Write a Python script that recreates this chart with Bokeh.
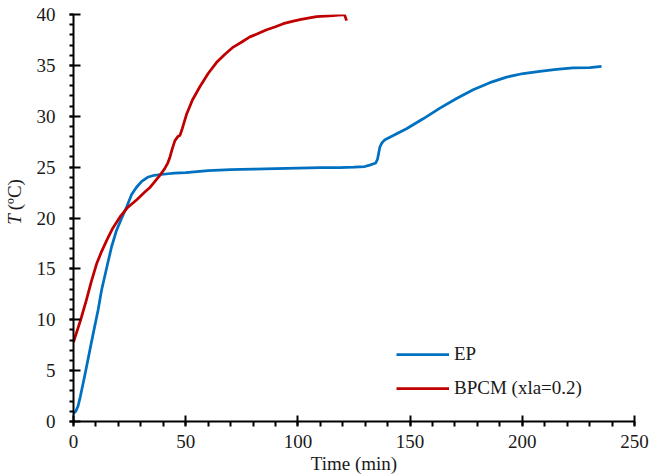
import math
from bokeh.plotting import figure
from bokeh.layouts import row
from bokeh.models import (Legend, LegendItem, Label, SingleIntervalTicker, Range1d)
from bokeh.embed import file_html
from bokeh.resources import INLINE

# ---- data ----
ep_time = [0, 1, 2, 3, 5, 8, 11, 12.5, 15.2, 17, 19.2, 21.5, 23.7, 25.9, 28, 30.4,
           33, 36, 40, 45, 50, 55, 60, 65, 70, 80, 90, 100, 110, 118.7, 125, 129.8,
           132, 134.7, 135.5, 136.5, 137.5, 138.8, 142.5, 148.4, 155.8, 163.3,
           170.7, 178.1, 185.5, 193, 200.4, 207.8, 215.2, 222.6, 230.1, 235.3]
ep_temp = [0.8, 1.0, 1.5, 2.4, 4.5, 7.8, 11.0, 12.9, 15.5, 17.2, 18.8, 20.0, 21.1,
           22.3, 23.0, 23.6, 24.0, 24.2, 24.3, 24.4, 24.45, 24.55, 24.65, 24.7,
           24.75, 24.8, 24.85, 24.9, 24.95, 24.96, 25.0, 25.06, 25.2, 25.4, 25.8,
           26.96, 27.4, 27.7, 28.1, 28.77, 29.75, 30.8, 31.75, 32.6, 33.3, 33.85,
           34.2, 34.4, 34.6, 34.76, 34.78, 34.9]

bpcm_time = [0, 3.2, 5.7, 8, 10.3, 12.5, 14.8, 17.5, 20.7, 24, 28.2, 32, 34.1, 36.3,
             38.5, 40.5, 42, 43, 44, 45.2, 46.5, 47.4, 48.5, 50.4, 53, 56.3, 60,
             63.8, 67.5, 71.2, 75, 78.6, 82, 86.1, 90, 93.5, 97, 100.9, 104.5,
             108.3, 112, 115.7, 118, 120.2, 120.8, 121.7]
bpcm_temp = [7.8, 10.0, 11.9, 13.8, 15.5, 16.7, 17.8, 19.0, 20.1, 21.0, 21.8, 22.6,
             23.0, 23.6, 24.2, 24.8, 25.4, 26.0, 26.8, 27.6, 28.0, 28.1, 28.8, 30.2,
             31.6, 32.9, 34.2, 35.3, 36.1, 36.8, 37.3, 37.8, 38.1, 38.5, 38.8, 39.1,
             39.3, 39.5, 39.65, 39.8, 39.85, 39.9, 39.93, 39.97, 39.95, 39.4]

series_names = ["EP", "BPCM (xla=0.2)"]
x_label = "Time (min)"
y_label_italic = "T"
y_label_rest = "(ºC)"

FONT = "Liberation Serif"
FS = "19px"
TXT = "#1a1a1a"
H = 476
LW = 30  # width of the strip holding the y-axis title

# ---- narrow strip for the y-axis title (so italic T can be mixed in) ----
lab = figure(width=LW, height=H, output_backend="svg", toolbar_location=None,
             title=None, x_range=Range1d(0, LW), y_range=Range1d(0, H),
             x_axis_type=None, y_axis_type=None,
             min_border_left=0, min_border_right=0, min_border_top=0,
             min_border_bottom=0)
lab.outline_line_color = None
lab.xgrid.visible = False
lab.ygrid.visible = False
lab.add_layout(Label(x=14, y=H - 246, text=y_label_italic, angle=math.pi / 2,
                     text_font=FONT, text_font_size=FS, text_font_style="italic",
                     text_color=TXT, text_align="left", text_baseline="alphabetic"))
lab.add_layout(Label(x=14, y=H - 229, text=y_label_rest, angle=math.pi / 2,
                     text_font=FONT, text_font_size=FS, text_font_style="normal",
                     text_color=TXT, text_align="left", text_baseline="alphabetic"))

# ---- main chart ----
p = figure(width=652 - LW, height=H, output_backend="svg", toolbar_location=None,
           x_range=Range1d(0, 250), y_range=Range1d(0, 40),
           min_border_left=73 - LW, min_border_right=18, min_border_top=14,
           min_border_bottom=55)
p.outline_line_color = None
p.xgrid.visible = False
p.ygrid.visible = False
p.background_fill_color = "white"
p.border_fill_color = "white"

r1 = p.line(ep_time, ep_temp, line_color="#0070C0", line_width=2.75)
r2 = p.line(bpcm_time, bpcm_temp, line_color="#C00000", line_width=2.75)

xa = p.xaxis[0]
xa.ticker = SingleIntervalTicker(interval=50, num_minor_ticks=5)
xa.axis_label = x_label
xa.axis_label_text_font = FONT
xa.axis_label_text_font_size = FS
xa.axis_label_text_font_style = "normal"
xa.axis_label_text_color = TXT
xa.axis_label_standoff = 2
xa.major_label_text_font = FONT
xa.major_label_text_font_size = FS
xa.major_label_text_color = TXT
xa.major_label_standoff = 8
xa.axis_line_width = 2
xa.axis_line_color = "black"
xa.major_tick_in = 6
xa.major_tick_out = 4
xa.minor_tick_in = 0
xa.minor_tick_out = 5
xa.major_tick_line_width = 2
xa.minor_tick_line_width = 2

ya = p.yaxis[0]
ya.ticker = SingleIntervalTicker(interval=5, num_minor_ticks=5)
ya.major_label_text_font = FONT
ya.major_label_text_font_size = FS
ya.major_label_text_color = TXT
ya.major_label_standoff = 14
ya.axis_line_width = 2
ya.axis_line_color = "black"
ya.major_tick_in = 7
ya.major_tick_out = 4
ya.minor_tick_in = 0
ya.minor_tick_out = 4
ya.major_tick_line_width = 2
ya.minor_tick_line_width = 2

legend = Legend(items=[LegendItem(label=series_names[0], renderers=[r1]),
                       LegendItem(label=series_names[1], renderers=[r2])],
                location=(323, 22), orientation="vertical")
legend.border_line_color = None
legend.background_fill_alpha = 0
legend.padding = 0
legend.margin = 0
legend.glyph_width = 53
legend.glyph_height = 20
legend.label_height = 20
legend.spacing = 12
legend.label_standoff = 5
legend.label_text_font = FONT
legend.label_text_font_size = FS
legend.label_text_color = TXT
p.add_layout(legend)

layout = row(lab, p, spacing=0)
open("out.html", "w").write(file_html(layout, INLINE))
